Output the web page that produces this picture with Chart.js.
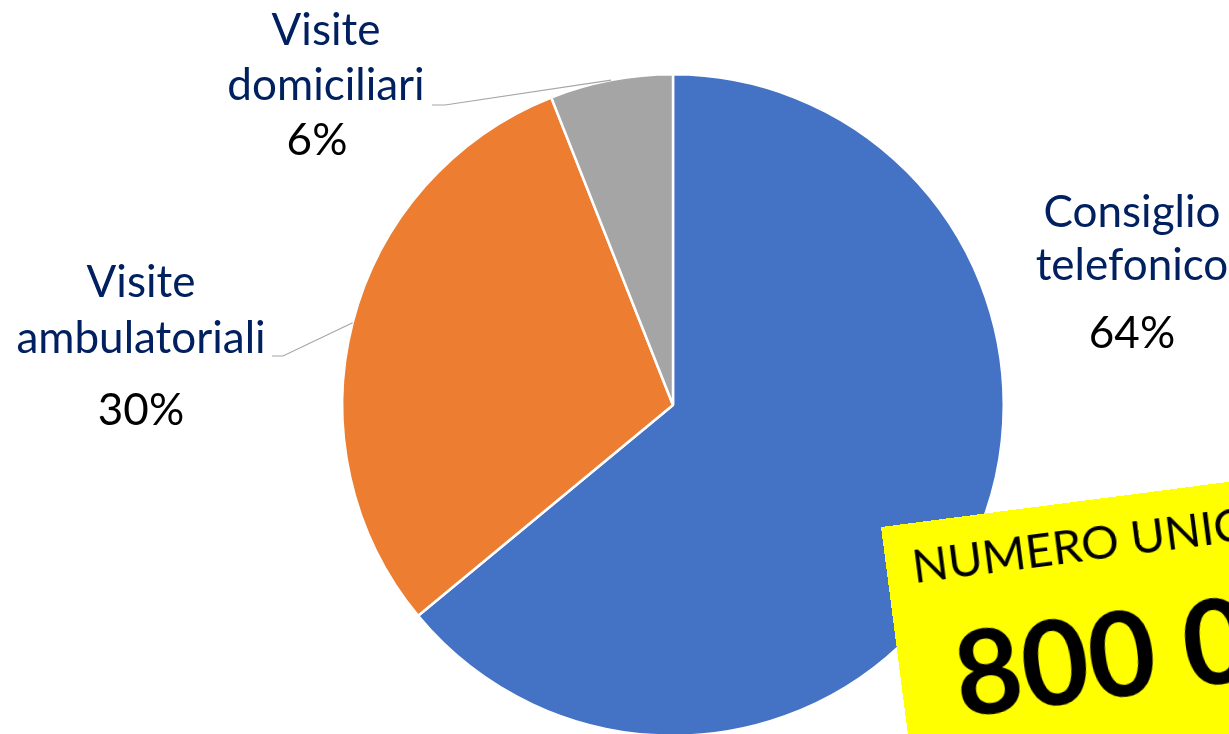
<!DOCTYPE html>
<html>
<head>
<meta charset="utf-8">
<script src="https://cdn.jsdelivr.net/npm/chart.js@4/dist/chart.umd.min.js"></script>
<style>
  html, body { margin: 0; padding: 0; background: #fff; overflow: hidden; width: 1229px; height: 734px; }
  #wrap { position: absolute; left: 0; top: 0; width: 1229px; height: 800px; }
  #badge {
    position: absolute; left: 881px; top: 527px; width: 520px; height: 320px;
    background: #ffff00; transform: rotate(-7.4deg); transform-origin: 0 0;
    font-family: Lato, "Open Sans", sans-serif; color: #000;
  }
  #badge .l1 { position: absolute; left: 26px; top: 15px; font-size: 47px; line-height: 54px; white-space: nowrap; }
  #badge .l2 { position: absolute; left: 54px; top: 90px; font-size: 116px; line-height: 130px; font-weight: 700; white-space: nowrap; }
</style>
</head>
<body>
<div id="wrap"><canvas id="pie"></canvas></div>
<div id="badge"><div class="l1">NUMERO UNICO</div><div class="l2">800 000</div></div>
<script>
const categories = [['Consiglio', 'telefonico'], ['Visite', 'ambulatoriali'], ['Visite', 'domiciliari']];
const shares = [64, 30, 6];
const sliceColors = ['#4472C4', '#ED7D31', '#A5A5A5'];

// where each label block sits, relative to the pie centre (pixels)
const labelLayout = [
    { dx: 459, lines: [-178, -125, -57], leader: null },
    { dx: -532, lines: [-108, -52, 20], leader: { elbow: [-390, -49], end: [-401, -49] } },
    { dx: -347, lines: [-360, -305, -250], leader: { elbow: [-228, -300], end: [-241, -300] } }
];

const labelPlugin = {
    id: 'pieLabels',
    afterDatasetsDraw(chart) {
        const ctx = chart.ctx;
        const arcs = chart.getDatasetMeta(0).data;
        ctx.save();
        arcs.forEach((arc, i) => {
            const cx = arc.x, cy = arc.y, r = arc.outerRadius;
            const lay = labelLayout[i];
            const mid = (arc.startAngle + arc.endAngle) / 2;
            if (lay.leader) {
                ctx.strokeStyle = '#A6A6A6';
                ctx.lineWidth = 1.2;
                ctx.beginPath();
                ctx.moveTo(cx + r * Math.cos(mid), cy + r * Math.sin(mid));
                ctx.lineTo(cx + lay.leader.elbow[0], cy + lay.leader.elbow[1]);
                ctx.lineTo(cx + lay.leader.end[0], cy + lay.leader.end[1]);
                ctx.stroke();
            }
            ctx.textAlign = 'center';
            ctx.textBaseline = 'alphabetic';
            ctx.font = '44px Lato, "Open Sans", sans-serif';
            ctx.fillStyle = '#002060';
            ctx.fillText(categories[i][0], cx + lay.dx, cy + lay.lines[0]);
            ctx.fillText(categories[i][1], cx + lay.dx, cy + lay.lines[1]);
            ctx.fillStyle = '#000000';
            ctx.fillText(shares[i] + '%', cx + lay.dx - (i === 2 ? 9 : 0), cy + lay.lines[2]);
        });
        ctx.restore();
    }
};

new Chart(document.getElementById('pie'), {
    type: 'pie',
    data: {
        labels: categories.map(c => c.join(' ')),
        datasets: [{
            data: shares,
            backgroundColor: sliceColors,
            borderColor: '#ffffff',
            borderWidth: 2.5
        }]
    },
    options: {
        responsive: true,
        maintainAspectRatio: false,
        animation: false,
        layout: { padding: { left: 341, right: 224, top: 73, bottom: 63 } },
        plugins: { legend: { display: false }, tooltip: { enabled: false } }
    },
    plugins: [labelPlugin]
});
</script>
</body>
</html>
